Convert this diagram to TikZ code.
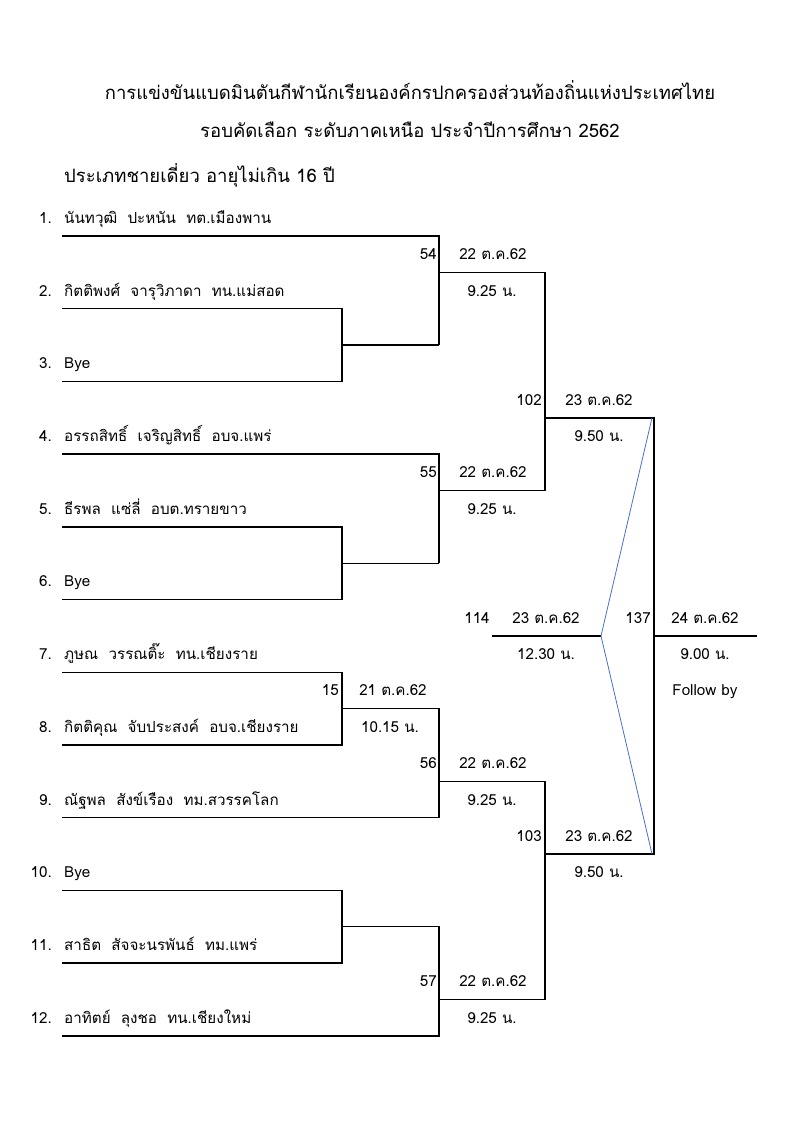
\documentclass[tikz,border=0pt]{standalone}
\usepackage{fontspec}
\newfontfamily\thai[Script=Thai]{Loma}
\begin{document}
\begin{tikzpicture}[x=1pt,y=-1pt,
  txt/.style={inner sep=0pt,anchor=base,font=\thai\fontsize{15.2}{17}\selectfont},
  ttl/.style={inner sep=0pt,anchor=base,font=\thai\fontsize{18.5}{21}\selectfont},
  br/.style={line width=1.4pt,black},
  bl/.style={line width=0.8pt,color={rgb,255:red,68;green,114;blue,196}}]
\useasboundingbox (0,0) rectangle (800,1131);
% titles
\node[ttl] (t1) at (410,100) {การแข่งขันแบดมินตันกีฬานักเรียนองค์กรปกครองส่วนท้องถิ่นแห่งประเทศไทย};
\node[ttl] (t2) at (410,138) {รอบคัดเลือก ระดับภาคเหนือ ประจำปีการศึกษา 2562};
\node[ttl,anchor=base west] (t3) at (64,183) {ประเภทชายเดี่ยว อายุไม่เกิน 16 ปี};
% player names
\foreach \n/\y/\t in {1/218/{นันทวุฒิ\ \ ปะหนัน\ \ ทต.เมืองพาน},
  2/290.5/{กิตติพงศ์\ \ จารุวิภาดา\ \ ทน.แม่สอด},
  3/363.2/{Bye},
  4/435.9/{อรรถสิทธิ์\ \ เจริญสิทธิ์\ \ อบจ.แพร่},
  5/508.6/{ธีรพล\ \ แซ่ลี่\ \ อบต.ทรายขาว},
  6/581.3/{Bye},
  7/654/{ภูษณ\ \ วรรณติ๊ะ\ \ ทน.เชียงราย},
  8/726.8/{กิตติคุณ\ \ จับประสงค์\ \ อบจ.เชียงราย},
  9/799.5/{ณัฐพล\ \ สังข์เรือง\ \ ทม.สวรรคโลก},
  10/872.2/{Bye},
  11/944.9/{สาธิต\ \ สัจจะนรพันธ์\ \ ทม.แพร่},
  12/1017.6/{อาทิตย์\ \ ลุงชอ\ \ ทน.เชียงใหม่}}{
  \node[txt,anchor=base east] (n\n) at (52,\y+5.5) {\n.};
  \node[txt,anchor=base west] (p\n) at (64,\y+5.5) {\t};
}
% coordinates
\coordinate (s1) at (62,236);    \coordinate (a1) at (439,236);
\coordinate (s2) at (62,308.7);  \coordinate (a2) at (342,308.7);
\coordinate (s3) at (62,381.4);  \coordinate (a3) at (342,381.4);
\coordinate (b23) at (342,345);  \coordinate (c23) at (439,345);
\coordinate (j54) at (439,272.3);\coordinate (k54) at (545,272.3);
\coordinate (s4) at (62,454.1);  \coordinate (a4) at (439,454.1);
\coordinate (s5) at (62,526.8);  \coordinate (a5) at (342,526.8);
\coordinate (s6) at (62,599.5);  \coordinate (a6) at (342,599.5);
\coordinate (b56) at (342,563.2);\coordinate (c56) at (439,563.2);
\coordinate (j55) at (439,490.5);\coordinate (k55) at (545,490.5);
\coordinate (j102) at (545,417.8);\coordinate (k102) at (654,417.8);
\coordinate (s7) at (62,672.2);  \coordinate (a7) at (342,672.2);
\coordinate (s8) at (62,745);    \coordinate (a8) at (342,745);
\coordinate (j15) at (342,708.6);\coordinate (k15) at (439,708.6);
\coordinate (s9) at (62,817.7);  \coordinate (a9) at (439,817.7);
\coordinate (j56) at (439,781.3);\coordinate (k56) at (545,781.3);
\coordinate (s10) at (62,890.4); \coordinate (a10) at (342,890.4);
\coordinate (s11) at (62,963.1); \coordinate (a11) at (342,963.1);
\coordinate (b1011) at (342,926.7);\coordinate (c1011) at (439,926.7);
\coordinate (s12) at (62,1035.8);\coordinate (a12) at (439,1035.8);
\coordinate (j57) at (439,999.4);\coordinate (k57) at (545,999.4);
\coordinate (j103) at (545,854); \coordinate (k103) at (654,854);
\coordinate (j137) at (654,635.9);\coordinate (k137) at (757,635.9);
\coordinate (s114) at (492,635.9);\coordinate (k114) at (601,635.9);
\coordinate (bt) at (652,417.8); \coordinate (bb) at (652,854);
% bracket lines
\draw[br] (s1) -- (a1) -- (c23);
\draw[br] (s2) -- (a2) -- (a3) -- (s3);
\draw[br] (b23) -- (c23);
\draw[br] (j54) -- (k54) -- (k55) -- (j55);
\draw[br] (s4) -- (a4) -- (c56);
\draw[br] (s5) -- (a5) -- (a6) -- (s6);
\draw[br] (b56) -- (c56);
\draw[br] (j102) -- (k102) -- (k103) -- (j103);
\draw[br] (s7) -- (a7) -- (a8) -- (s8);
\draw[br] (j15) -- (k15) -- (a9) -- (s9);
\draw[br] (j56) -- (k56) -- (k57) -- (j57);
\draw[br] (s10) -- (a10) -- (a11) -- (s11);
\draw[br] (b1011) -- (c1011) -- (a12) -- (s12);
\draw[br] (j137) -- (k137);
\draw[br] (s114) -- (k114);
\draw[bl] (bt) -- (k114) -- (bb);
% match labels
\node[txt,anchor=base east] (m54) at (437,259.5) {54};
\node[txt] (d54) at (493,259.5) {22 ต.ค.62};
\node[txt] (h54) at (492,296) {9.25 น.};
\node[txt,anchor=base east] (m55) at (437,477.8) {55};
\node[txt] (d55) at (493,477.8) {22 ต.ค.62};
\node[txt] (h55) at (492,514.1) {9.25 น.};
\node[txt,anchor=base east] (m102) at (542,405) {102};
\node[txt] (d102) at (599,405) {23 ต.ค.62};
\node[txt] (h102) at (599,441.4) {9.50 น.};
\node[txt] (m114) at (477,623.1) {114};
\node[txt] (d114) at (546,623.1) {23 ต.ค.62};
\node[txt] (h114) at (546,659.5) {12.30 น.};
\node[txt,anchor=base east] (m137) at (651,623.1) {137};
\node[txt] (d137) at (705,623.1) {24 ต.ค.62};
\node[txt] (h137) at (705,659.5) {9.00 น.};
\node[txt] (f137) at (705,695.8) {Follow by};
\node[txt,anchor=base east] (m15) at (339,695.8) {15};
\node[txt] (d15) at (393,695.8) {21 ต.ค.62};
\node[txt] (h15) at (390,732.3) {10.15 น.};
\node[txt,anchor=base east] (m56) at (437,768.5) {56};
\node[txt] (d56) at (493,768.5) {22 ต.ค.62};
\node[txt] (h56) at (492,805) {9.25 น.};
\node[txt,anchor=base east] (m103) at (542,841.2) {103};
\node[txt] (d103) at (599,841.2) {23 ต.ค.62};
\node[txt] (h103) at (599,877.7) {9.50 น.};
\node[txt,anchor=base east] (m57) at (437,986.6) {57};
\node[txt] (d57) at (493,986.6) {22 ต.ค.62};
\node[txt] (h57) at (492,1023.1) {9.25 น.};
\end{tikzpicture}
\end{document}
